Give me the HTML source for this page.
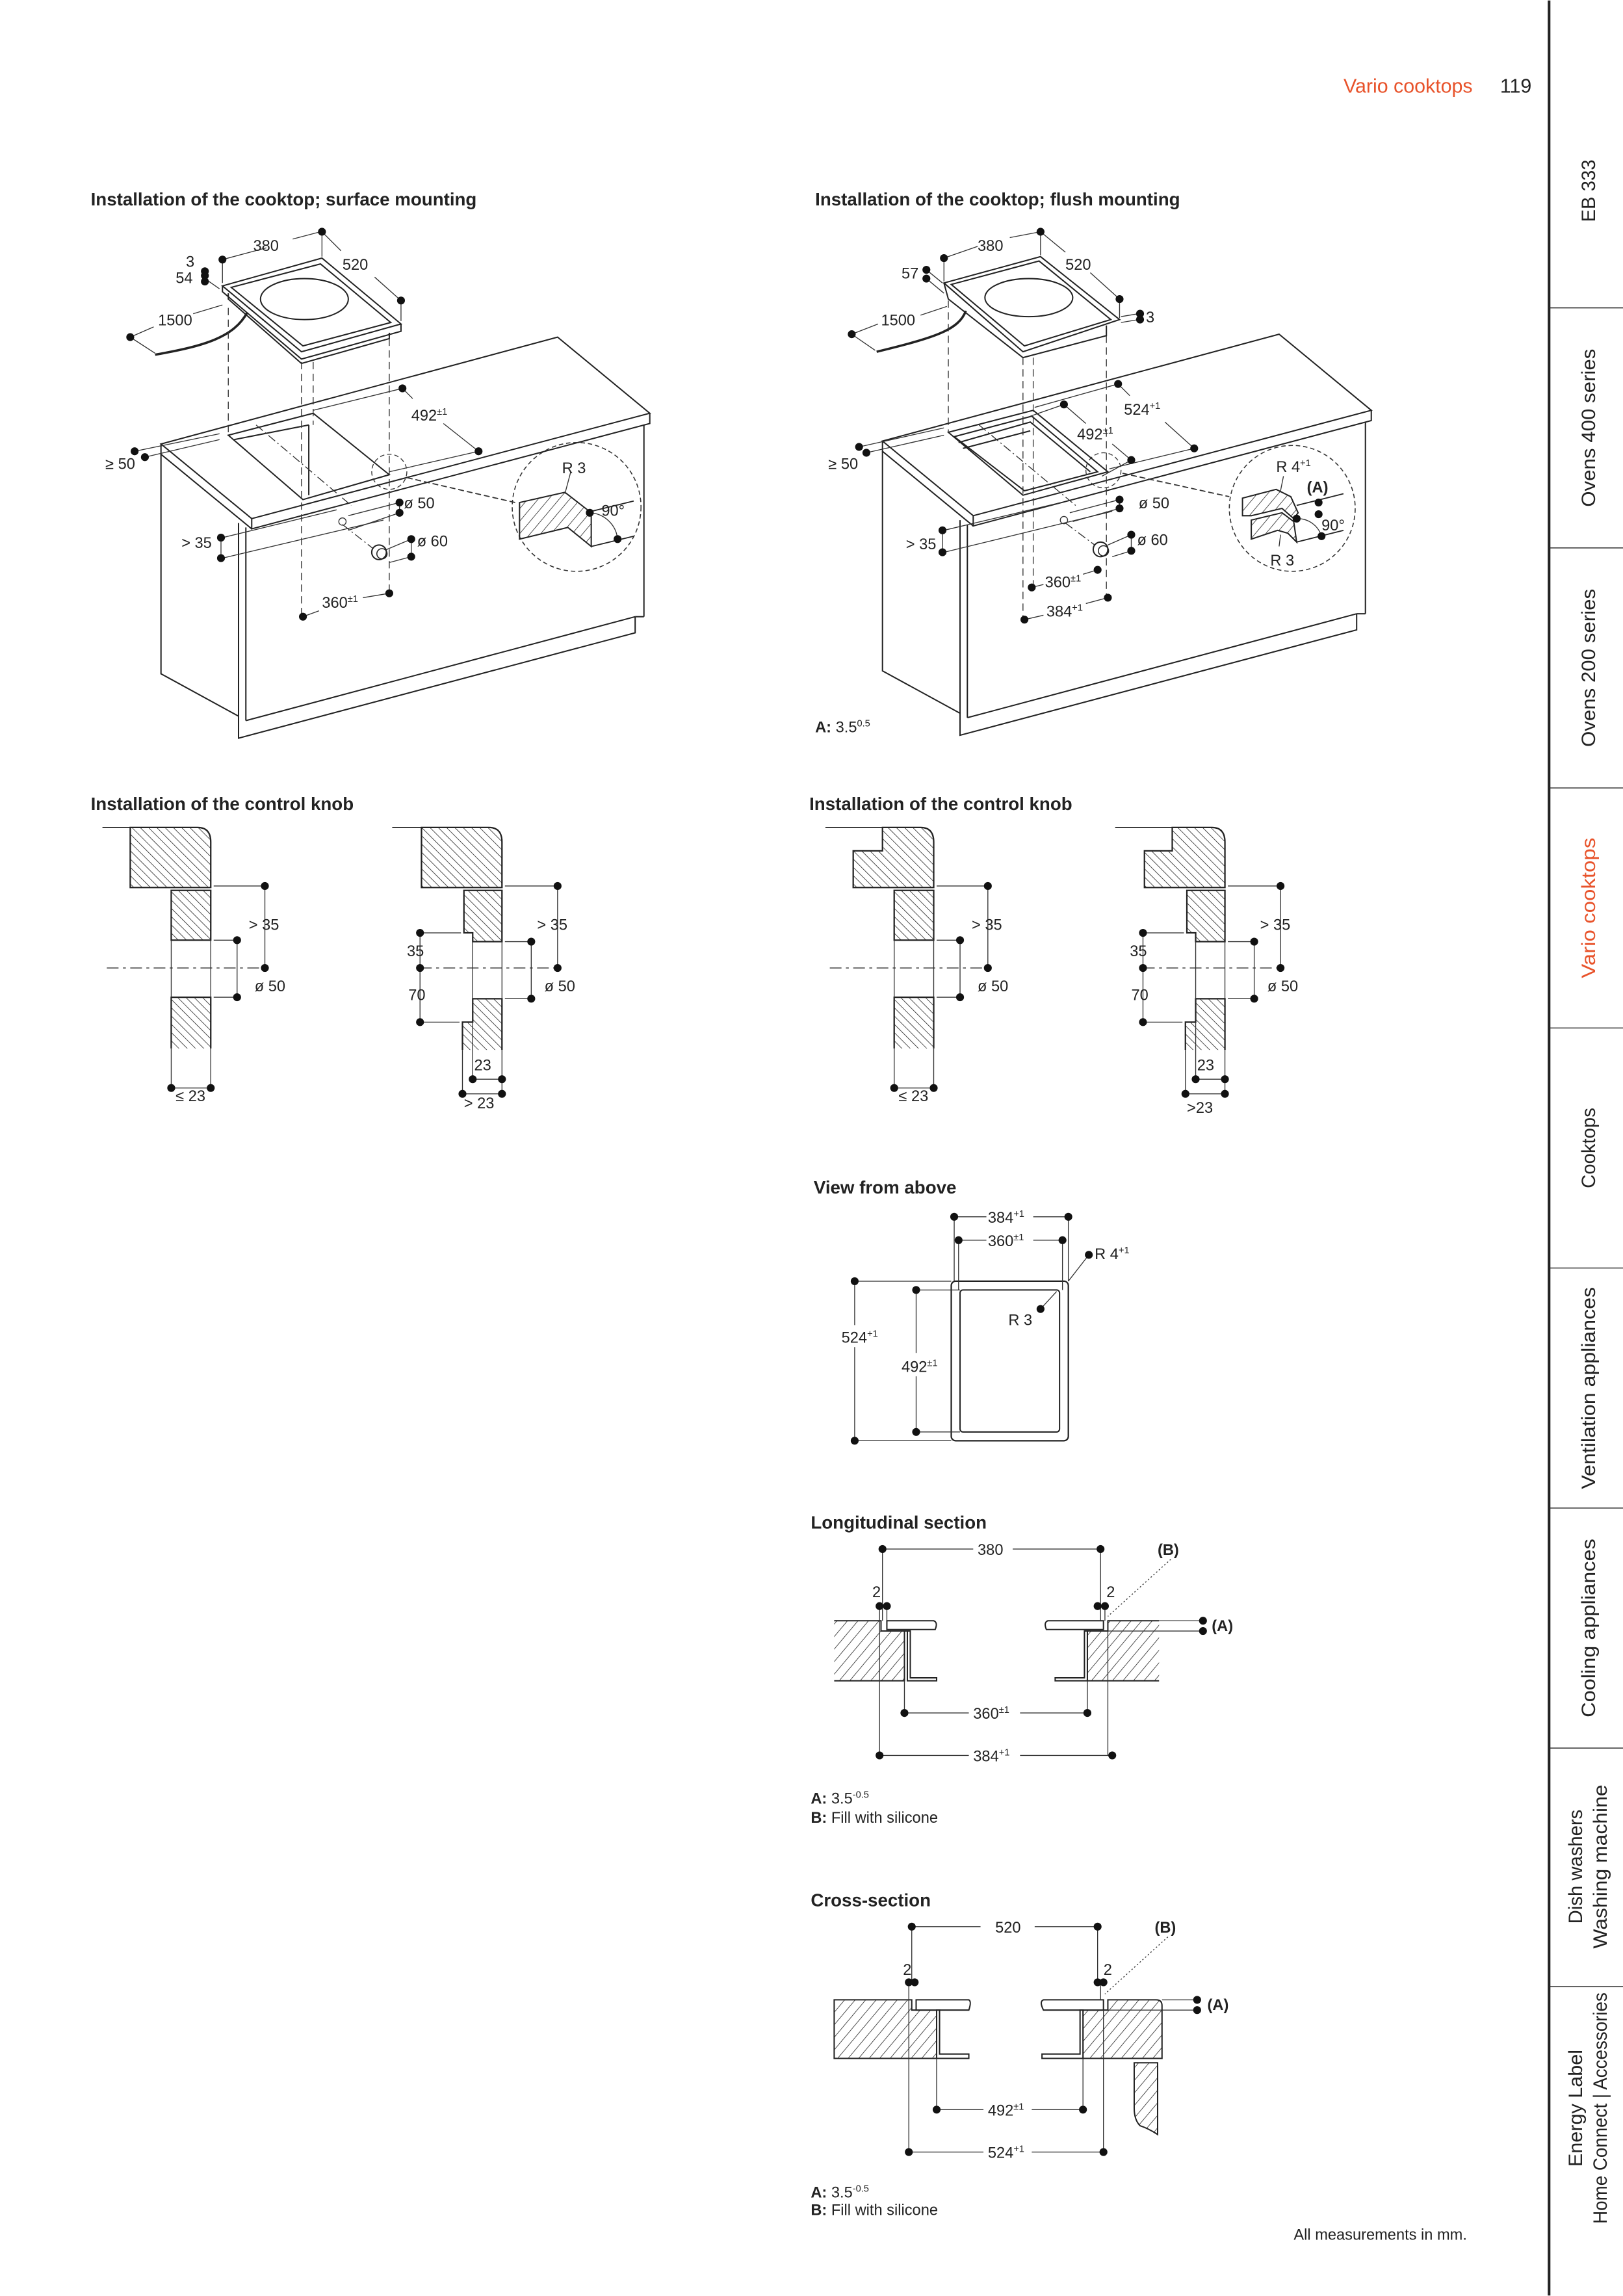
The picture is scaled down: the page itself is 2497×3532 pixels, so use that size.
<!DOCTYPE html>
<html><head><meta charset="utf-8"><style>
html,body{margin:0;padding:0;background:#fff}
svg{display:block}
text{font-family:"Liberation Sans",sans-serif;fill:#222}
.t{font-size:12.3px;font-weight:bold}
.l{font-size:10.5px}
.s{font-size:6.5px}
.sb{font-family:"Liberation Sans Narrow","Liberation Sans",sans-serif;font-size:13px}
</style></head><body>
<svg width="2497" height="3532" viewBox="0 0 1109 1568" xmlns="http://www.w3.org/2000/svg">
<defs>
<pattern id="hb" patternUnits="userSpaceOnUse" width="4" height="4" patternTransform="rotate(-45)"><line x1="0" y1="0" x2="0" y2="4" stroke="#222" stroke-width="0.7"/></pattern>
<pattern id="hf" patternUnits="userSpaceOnUse" width="5.5" height="5.5" patternTransform="rotate(40)"><line x1="0" y1="0" x2="0" y2="5.5" stroke="#222" stroke-width="0.7"/></pattern>
<g id="cab" fill="none" stroke="#222" stroke-width="0.9">
<polygon points="110,303 381,230 444,282 172,354" fill="#fff"/>
<polyline points="172,354 172,361 444,289 444,282"/>
<polyline points="110,303 110,310 172,361"/>
<polyline points="110,310 110,460 163,489 163,504 434,432 434,421"/>
<line x1="163" y1="357" x2="163" y2="489"/>
<line x1="168" y1="360" x2="168" y2="492"/>
<line x1="168" y1="492" x2="434" y2="421"/>
<line x1="440" y1="290" x2="440" y2="421"/>
<line x1="434" y1="421" x2="440" y2="421"/>
</g>
<g id="dt"><circle r="2.7" fill="#111"/></g>
</defs>

<!-- header -->
<text x="918" y="63" style="font-size:13.5px;fill:#e8532b">Vario cooktops</text>
<text x="1025" y="63" style="font-size:13.5px">119</text>

<!-- sidebar -->
<line x1="1058.5" y1="0" x2="1058.5" y2="1568" stroke="#222" stroke-width="1.8"/>
<g stroke="#333" stroke-width="0.7">
<line x1="1059" y1="210" x2="1109" y2="210"/><line x1="1059" y1="374" x2="1109" y2="374"/>
<line x1="1059" y1="538" x2="1109" y2="538"/><line x1="1059" y1="702" x2="1109" y2="702"/>
<line x1="1059" y1="866" x2="1109" y2="866"/><line x1="1059" y1="1030" x2="1109" y2="1030"/>
<line x1="1059" y1="1194" x2="1109" y2="1194"/><line x1="1059" y1="1357" x2="1109" y2="1357"/>
</g>
<g text-anchor="middle">
<text transform="translate(1090,130) rotate(-90)" class="sb">EB 333</text>
<text transform="translate(1090,292) rotate(-90)" class="sb" textLength="108" lengthAdjust="spacingAndGlyphs">Ovens 400 series</text>
<text transform="translate(1090,456) rotate(-90)" class="sb" textLength="108" lengthAdjust="spacingAndGlyphs">Ovens 200 series</text>
<text transform="translate(1090,620) rotate(-90)" class="sb" style="fill:#e8532b" textLength="96" lengthAdjust="spacingAndGlyphs">Vario cooktops</text>
<text transform="translate(1090,784) rotate(-90)" class="sb">Cooktops</text>
<text transform="translate(1090,948) rotate(-90)" class="sb" textLength="138" lengthAdjust="spacingAndGlyphs">Ventilation appliances</text>
<text transform="translate(1090,1112) rotate(-90)" class="sb" textLength="122" lengthAdjust="spacingAndGlyphs">Cooling appliances</text>
<text transform="translate(1081,1275) rotate(-90)" class="sb" textLength="78" lengthAdjust="spacingAndGlyphs">Dish washers</text>
<text transform="translate(1098,1275) rotate(-90)" class="sb" textLength="112" lengthAdjust="spacingAndGlyphs">Washing machine</text>
<text transform="translate(1081,1440) rotate(-90)" class="sb" textLength="80" lengthAdjust="spacingAndGlyphs">Energy Label</text>
<text transform="translate(1098,1440) rotate(-90)" class="sb" textLength="158" lengthAdjust="spacingAndGlyphs">Home Connect | Accessories</text>
</g>

<!-- titles -->
<text x="62" y="140" class="t">Installation of the cooktop; surface mounting</text>
<text x="557" y="140" class="t">Installation of the cooktop; flush mounting</text>
<text x="62" y="553" class="t">Installation of the control knob</text>
<text x="553" y="553" class="t">Installation of the control knob</text>
<text x="556" y="815" class="t">View from above</text>
<text x="554" y="1044" class="t">Longitudinal section</text>
<text x="554" y="1302" class="t">Cross-section</text>

<!-- ========== SURFACE MOUNTING ========== -->
<use href="#cab"/>
<g fill="none" stroke="#222" stroke-width="0.9">
<polygon points="156,297 214,282 266,324 207,341" fill="#fff"/>
<line x1="211" y1="290" x2="211" y2="338"/>
<line x1="160" y1="300" x2="211" y2="290"/>
<polygon points="152,195 220,176 274,221 206,240" fill="#fff"/>
<polyline points="152,195 152,199 206,245 274,226 274,221"/>
<polygon points="158,196 219,180 267,220 207,236"/>
<polyline points="156,200 156,204 206,248 266,231 266,227"/>
<ellipse cx="208" cy="204" rx="30" ry="14"/>
<path d="M169,213 C160,230 140,236 106,242" stroke-width="1.6"/>
</g>
<g stroke="#333" stroke-width="0.6" fill="none" stroke-dasharray="5,3">
<line x1="156" y1="210" x2="156" y2="297"/>
<line x1="206" y1="247" x2="206" y2="421"/>
<line x1="214" y1="247" x2="214" y2="290"/>
<line x1="266" y1="231" x2="266" y2="405"/>
<line x1="175" y1="290" x2="240" y2="345" stroke-dasharray="6,2,1,2"/>
<line x1="234" y1="358" x2="262" y2="380" stroke-dasharray="6,2,1,2"/>
</g>
<g stroke="#333" stroke-width="0.6">
<line x1="152" y1="193" x2="152" y2="178"/><line x1="152" y1="177" x2="182" y2="169"/><line x1="200" y1="163" x2="219" y2="158"/>
<line x1="220" y1="160" x2="220" y2="175"/><line x1="220" y1="158" x2="233" y2="171"/><line x1="256" y1="189" x2="274" y2="205"/><line x1="274" y1="205" x2="274" y2="219"/>
<line x1="140" y1="190" x2="150" y2="197"/>
<line x1="89" y1="230" x2="106" y2="241"/><line x1="89" y1="230" x2="105" y2="223"/><line x1="132" y1="214" x2="152" y2="208"/>
<line x1="214" y1="280" x2="275" y2="265"/><line x1="275" y1="265" x2="282" y2="272"/><line x1="303" y1="289" x2="327" y2="308"/><line x1="266" y1="322" x2="327" y2="308"/>
<line x1="92" y1="308" x2="150" y2="296"/><line x1="99" y1="312" x2="150" y2="300"/>
<line x1="152" y1="367" x2="230" y2="348"/><line x1="152" y1="381" x2="262" y2="355"/><line x1="151" y1="367" x2="151" y2="381"/>
<line x1="238" y1="352" x2="273" y2="343"/><line x1="238" y1="362" x2="273" y2="350"/><line x1="273" y1="343" x2="273" y2="350"/>
<line x1="262" y1="376" x2="281" y2="368"/><line x1="266" y1="384" x2="281" y2="380"/><line x1="281" y1="368" x2="281" y2="380"/>
<line x1="207" y1="421" x2="218" y2="417"/><line x1="248" y1="408" x2="266" y2="405"/>
</g>
<use href="#dt" x="152" y="177"/><use href="#dt" x="220" y="158"/><use href="#dt" x="274" y="205"/>
<use href="#dt" x="140" y="185"/><use href="#dt" x="140" y="188"/><use href="#dt" x="140" y="192"/>
<use href="#dt" x="89" y="230"/><use href="#dt" x="275" y="265"/><use href="#dt" x="327" y="308"/>
<use href="#dt" x="92" y="308"/><use href="#dt" x="99" y="312"/>
<use href="#dt" x="273" y="343"/><use href="#dt" x="273" y="350"/>
<use href="#dt" x="151" y="367"/><use href="#dt" x="151" y="381"/>
<use href="#dt" x="281" y="368"/><use href="#dt" x="281" y="380"/>
<use href="#dt" x="207" y="421"/><use href="#dt" x="266" y="405"/>
<circle cx="234" cy="356" r="2.5" fill="none" stroke="#333" stroke-width="0.6"/>
<circle cx="259" cy="377" r="5" fill="#fff" stroke="#222" stroke-width="0.9"/><circle cx="261" cy="378" r="3.5" fill="none" stroke="#222" stroke-width="0.7"/>
<circle cx="266" cy="322" r="12" fill="none" stroke="#333" stroke-width="0.6" stroke-dasharray="3,2"/>
<line x1="278" y1="326" x2="352" y2="343" stroke="#333" stroke-width="0.8" stroke-dasharray="4,2"/>
<circle cx="394" cy="346" r="44" fill="none" stroke="#333" stroke-width="0.7" stroke-dasharray="3,2"/>
<polygon points="355,343 386,336 404,350 404,373 388,360 355,368" fill="url(#hf)" stroke="#222" stroke-width="0.9"/>
<line x1="404" y1="349" x2="433" y2="342" stroke="#222" stroke-width="0.8"/><line x1="404" y1="373" x2="433" y2="366" stroke="#222" stroke-width="0.8"/>
<path d="M403,350 A20,20 0 0 1 422,368" fill="none" stroke="#333" stroke-width="0.6"/>
<use href="#dt" x="403" y="350"/><use href="#dt" x="422" y="368"/>
<line x1="386" y1="337" x2="390" y2="322" stroke="#333" stroke-width="0.6"/>
<g class="l">
<text x="127" y="182">3</text><text x="120" y="193">54</text><text x="173" y="171">380</text><text x="234" y="184">520</text>
<text x="108" y="222">1500</text><text x="281" y="287">492<tspan class="s" dy="-4">±1</tspan></text>
<text x="72" y="320">≥ 50</text><text x="384" y="323">R 3</text><text x="411" y="352">90°</text>
<text x="276" y="347">ø 50</text><text x="124" y="374">&gt; 35</text><text x="285" y="373">ø 60</text>
<text x="220" y="415">360<tspan class="s" dy="-4">±1</tspan></text>
</g>

<!-- ========== FLUSH MOUNTING ========== -->
<use href="#cab" transform="translate(493,-2)"/>
<g fill="none" stroke="#222" stroke-width="0.9">
<polygon points="648,295 706,280 757,322 699,338" fill="#fff"/>
<polygon points="652,298 705,284 750,322 700,335"/>
<polyline points="655,302 704,288 745,322"/>
<line x1="658" y1="306" x2="704" y2="294"/>
<polygon points="645,193 711,175 765,218 699,240" fill="#fff"/>
<polyline points="645,193 648,204 699,244 756,229 756,222"/>
<polygon points="650,194 710,178 759,218 700,236"/>
<ellipse cx="703" cy="203" rx="30" ry="13"/>
<path d="M660,212 C655,225 640,230 599,240" stroke-width="1.6"/>
</g>
<g stroke="#333" stroke-width="0.6" fill="none" stroke-dasharray="5,3">
<line x1="648" y1="205" x2="648" y2="295"/>
<line x1="699" y1="244" x2="699" y2="423"/>
<line x1="706" y1="244" x2="706" y2="400"/>
<line x1="756" y1="229" x2="756" y2="408"/>
<line x1="669" y1="290" x2="735" y2="345" stroke-dasharray="6,2,1,2"/>
<line x1="728" y1="357" x2="752" y2="375" stroke-dasharray="6,2,1,2"/>
</g>
<g stroke="#333" stroke-width="0.6">
<line x1="645" y1="192" x2="645" y2="177"/><line x1="645" y1="176" x2="668" y2="168"/><line x1="690" y1="162" x2="711" y2="158"/>
<line x1="711" y1="158" x2="711" y2="174"/><line x1="711" y1="158" x2="728" y2="172"/><line x1="745" y1="186" x2="765" y2="204"/><line x1="765" y1="204" x2="765" y2="217"/>
<line x1="633" y1="184" x2="644" y2="193"/><line x1="633" y1="190" x2="645" y2="200"/>
<line x1="766" y1="216" x2="778" y2="214"/><line x1="766" y1="220" x2="778" y2="218"/>
<line x1="582" y1="228" x2="598" y2="239"/><line x1="582" y1="228" x2="600" y2="221"/><line x1="629" y1="215" x2="647" y2="209"/>
<line x1="707" y1="278" x2="764" y2="262"/><line x1="764" y1="262" x2="772" y2="270"/><line x1="796" y1="288" x2="816" y2="306"/><line x1="758" y1="320" x2="816" y2="306"/>
<line x1="704" y1="284" x2="727" y2="276"/><line x1="727" y1="276" x2="742" y2="289"/><line x1="760" y1="303" x2="773" y2="314"/><line x1="753" y1="325" x2="773" y2="314"/>
<line x1="587" y1="305" x2="645" y2="292"/><line x1="592" y1="309" x2="645" y2="297"/>
<line x1="645" y1="362" x2="725" y2="343"/><line x1="645" y1="377" x2="760" y2="349"/><line x1="644" y1="362" x2="644" y2="377"/>
<line x1="731" y1="350" x2="765" y2="341"/><line x1="733" y1="356" x2="765" y2="347"/><line x1="765" y1="341" x2="765" y2="347"/>
<line x1="757" y1="372" x2="773" y2="365"/><line x1="760" y1="380" x2="773" y2="376"/><line x1="773" y1="365" x2="773" y2="376"/>
<line x1="705" y1="401" x2="713" y2="399"/><line x1="740" y1="392" x2="750" y2="389"/>
<line x1="700" y1="423" x2="713" y2="420"/><line x1="742" y1="412" x2="757" y2="408"/>
</g>
<use href="#dt" x="645" y="176"/><use href="#dt" x="711" y="158"/><use href="#dt" x="765" y="204"/>
<use href="#dt" x="633" y="184"/><use href="#dt" x="633" y="190"/>
<use href="#dt" x="779" y="214"/><use href="#dt" x="779" y="218"/>
<use href="#dt" x="582" y="228"/><use href="#dt" x="764" y="262"/><use href="#dt" x="816" y="306"/>
<use href="#dt" x="727" y="276"/><use href="#dt" x="773" y="314"/>
<use href="#dt" x="587" y="305"/><use href="#dt" x="592" y="309"/>
<use href="#dt" x="765" y="341"/><use href="#dt" x="765" y="347"/>
<use href="#dt" x="644" y="362"/><use href="#dt" x="644" y="377"/>
<use href="#dt" x="773" y="365"/><use href="#dt" x="773" y="376"/>
<use href="#dt" x="705" y="401"/><use href="#dt" x="750" y="389"/>
<use href="#dt" x="700" y="423"/><use href="#dt" x="757" y="408"/>
<circle cx="727" cy="355" r="2.5" fill="none" stroke="#333" stroke-width="0.6"/>
<circle cx="752" cy="375" r="5" fill="#fff" stroke="#222" stroke-width="0.9"/><circle cx="754" cy="376" r="3.5" fill="none" stroke="#222" stroke-width="0.7"/>
<circle cx="754" cy="321" r="12" fill="none" stroke="#333" stroke-width="0.6" stroke-dasharray="3,2"/>
<line x1="767" y1="323" x2="840" y2="339" stroke="#333" stroke-width="0.8" stroke-dasharray="4,2"/>
<circle cx="883" cy="347" r="43" fill="none" stroke="#333" stroke-width="0.7" stroke-dasharray="3,2"/>
<polygon points="849,340 872,334 882,339 887,350 884,354 876,347 855,352 849,352" fill="url(#hf)" stroke="#222" stroke-width="0.9"/>
<polygon points="855,355 876,350 884,356 886,370 880,364 873,362 855,368" fill="url(#hf)" stroke="#222" stroke-width="0.9"/>
<line x1="886" y1="345" x2="918" y2="337" stroke="#222" stroke-width="0.8"/><line x1="886" y1="370" x2="918" y2="362" stroke="#222" stroke-width="0.8"/>
<path d="M886,354 A17,17 0 0 1 903,366" fill="none" stroke="#333" stroke-width="0.6"/>
<use href="#dt" x="901" y="343"/><use href="#dt" x="901" y="351"/><use href="#dt" x="886" y="354"/><use href="#dt" x="903" y="366"/>
<line x1="875" y1="335" x2="877" y2="325" stroke="#333" stroke-width="0.6"/><line x1="875" y1="365" x2="874" y2="373" stroke="#333" stroke-width="0.6"/>
<g class="l">
<text x="616" y="190">57</text><text x="668" y="171">380</text><text x="728" y="184">520</text><text x="783" y="220">3</text>
<text x="602" y="222">1500</text><text x="768" y="283">524<tspan class="s" dy="-4">+1</tspan></text>
<text x="736" y="300">492<tspan class="s" dy="-4">±1</tspan></text>
<text x="566" y="320">≥ 50</text><text x="872" y="322">R 4<tspan class="s" dy="-4">+1</tspan></text>
<text x="893" y="336" style="font-weight:bold">(A)</text><text x="903" y="362">90°</text><text x="868" y="386">R 3</text>
<text x="778" y="347">ø 50</text><text x="619" y="375">&gt; 35</text><text x="777" y="372">ø 60</text>
<text x="714" y="401">360<tspan class="s" dy="-4">±1</tspan></text><text x="715" y="421">384<tspan class="s" dy="-4">+1</tspan></text>
<text x="557" y="500"><tspan style="font-weight:bold">A:</tspan> 3.5<tspan class="s" dy="-4">0.5</tspan></text>
</g>

<!-- ========== CONTROL KNOB (left pair) ========== -->
<g>
<line x1="70" y1="565" x2="89" y2="565" stroke="#222" stroke-width="0.8"/>
<path d="M89,565 H135 Q144,565 144,575 V606 H89 Z" fill="url(#hb)" stroke="#222" stroke-width="1"/>
<rect x="117" y="608" width="27" height="34" fill="url(#hb)" stroke="#222" stroke-width="1"/>
<path d="M117,716 V681 H144 V716" fill="url(#hb)" stroke="#222" stroke-width="1"/>
<g stroke="#333" stroke-width="0.6">
<line x1="117" y1="642" x2="117" y2="681"/><line x1="144" y1="642" x2="144" y2="681"/>
<line x1="117" y1="716" x2="117" y2="743"/><line x1="144" y1="716" x2="144" y2="743"/>
<line x1="146" y1="605" x2="181" y2="605"/><line x1="181" y1="605" x2="181" y2="661"/>
<line x1="146" y1="642" x2="162" y2="642"/><line x1="162" y1="642" x2="162" y2="681"/><line x1="146" y1="681" x2="162" y2="681"/>
<line x1="73" y1="661" x2="181" y2="661" stroke-dasharray="8,3,2,3"/>
<line x1="117" y1="743" x2="144" y2="743"/>
</g>
<use href="#dt" x="181" y="605"/><use href="#dt" x="181" y="661"/><use href="#dt" x="162" y="642"/><use href="#dt" x="162" y="681"/>
<use href="#dt" x="117" y="743"/><use href="#dt" x="144" y="743"/>
</g>
<g class="l"><text x="170" y="635">&gt; 35</text><text x="174" y="677">ø 50</text><text x="120" y="752">≤ 23</text></g>

<g>
<line x1="268" y1="565" x2="288" y2="565" stroke="#222" stroke-width="0.8"/>
<path d="M288,565 H334 Q343,565 343,575 V606 H288 Z" fill="url(#hb)" stroke="#222" stroke-width="1"/>
<path d="M317,608 H343 V643 H323 V637 H317 Z" fill="url(#hb)" stroke="#222" stroke-width="1"/>
<path d="M316,717 V698 H323 V682 H343 V717" fill="url(#hb)" stroke="#222" stroke-width="1"/>
<g stroke="#333" stroke-width="0.6">
<line x1="323" y1="643" x2="323" y2="682"/><line x1="343" y1="643" x2="343" y2="682"/>
<line x1="323" y1="698" x2="323" y2="737"/><line x1="316" y1="717" x2="316" y2="747"/><line x1="343" y1="717" x2="343" y2="747"/>
<line x1="345" y1="605" x2="381" y2="605"/><line x1="381" y1="605" x2="381" y2="661"/>
<line x1="345" y1="643" x2="363" y2="643"/><line x1="363" y1="643" x2="363" y2="682"/><line x1="345" y1="682" x2="363" y2="682"/>
<line x1="287" y1="661" x2="381" y2="661" stroke-dasharray="8,3,2,3"/>
<line x1="287" y1="637" x2="315" y2="637"/><line x1="287" y1="698" x2="314" y2="698"/><line x1="287" y1="637" x2="287" y2="698"/>
<line x1="323" y1="737" x2="343" y2="737"/><line x1="316" y1="747" x2="343" y2="747"/>
</g>
<use href="#dt" x="381" y="605"/><use href="#dt" x="381" y="661"/><use href="#dt" x="363" y="643"/><use href="#dt" x="363" y="682"/>
<use href="#dt" x="287" y="637"/><use href="#dt" x="287" y="661"/><use href="#dt" x="287" y="698"/>
<use href="#dt" x="323" y="737"/><use href="#dt" x="343" y="737"/><use href="#dt" x="316" y="747"/><use href="#dt" x="343" y="747"/>
</g>
<g class="l"><text x="367" y="635">&gt; 35</text><text x="372" y="677">ø 50</text><text x="278" y="653">35</text><text x="279" y="683">70</text><text x="324" y="731">23</text><text x="317" y="757">&gt; 23</text></g>

<!-- ========== CONTROL KNOB (right pair, flush) ========== -->
<g transform="translate(494,0)">
<line x1="70" y1="565" x2="109" y2="565" stroke="#222" stroke-width="0.8"/>
<path d="M89,581 H109 V565 H135 Q144,565 144,575 V606 H89 Z" fill="url(#hb)" stroke="#222" stroke-width="1"/>
<rect x="117" y="608" width="27" height="34" fill="url(#hb)" stroke="#222" stroke-width="1"/>
<path d="M117,716 V681 H144 V716" fill="url(#hb)" stroke="#222" stroke-width="1"/>
<g stroke="#333" stroke-width="0.6">
<line x1="117" y1="642" x2="117" y2="681"/><line x1="144" y1="642" x2="144" y2="681"/>
<line x1="117" y1="716" x2="117" y2="743"/><line x1="144" y1="716" x2="144" y2="743"/>
<line x1="146" y1="605" x2="181" y2="605"/><line x1="181" y1="605" x2="181" y2="661"/>
<line x1="146" y1="642" x2="162" y2="642"/><line x1="162" y1="642" x2="162" y2="681"/><line x1="146" y1="681" x2="162" y2="681"/>
<line x1="73" y1="661" x2="181" y2="661" stroke-dasharray="8,3,2,3"/>
<line x1="117" y1="743" x2="144" y2="743"/>
</g>
<use href="#dt" x="181" y="605"/><use href="#dt" x="181" y="661"/><use href="#dt" x="162" y="642"/><use href="#dt" x="162" y="681"/>
<use href="#dt" x="117" y="743"/><use href="#dt" x="144" y="743"/>
<g class="l"><text x="170" y="635">&gt; 35</text><text x="174" y="677">ø 50</text><text x="120" y="752">≤ 23</text></g>
</g>
<g transform="translate(494,0)">
<line x1="268" y1="565" x2="307" y2="565" stroke="#222" stroke-width="0.8"/>
<path d="M288,581 H307 V565 H334 Q343,565 343,575 V606 H288 Z" fill="url(#hb)" stroke="#222" stroke-width="1"/>
<path d="M317,608 H343 V643 H323 V637 H317 Z" fill="url(#hb)" stroke="#222" stroke-width="1"/>
<path d="M316,717 V698 H323 V682 H343 V717" fill="url(#hb)" stroke="#222" stroke-width="1"/>
<g stroke="#333" stroke-width="0.6">
<line x1="323" y1="643" x2="323" y2="682"/><line x1="343" y1="643" x2="343" y2="682"/>
<line x1="323" y1="698" x2="323" y2="737"/><line x1="316" y1="717" x2="316" y2="747"/><line x1="343" y1="717" x2="343" y2="747"/>
<line x1="345" y1="605" x2="381" y2="605"/><line x1="381" y1="605" x2="381" y2="661"/>
<line x1="345" y1="643" x2="363" y2="643"/><line x1="363" y1="643" x2="363" y2="682"/><line x1="345" y1="682" x2="363" y2="682"/>
<line x1="287" y1="661" x2="381" y2="661" stroke-dasharray="8,3,2,3"/>
<line x1="287" y1="637" x2="315" y2="637"/><line x1="287" y1="698" x2="314" y2="698"/><line x1="287" y1="637" x2="287" y2="698"/>
<line x1="323" y1="737" x2="343" y2="737"/><line x1="316" y1="747" x2="343" y2="747"/>
</g>
<use href="#dt" x="381" y="605"/><use href="#dt" x="381" y="661"/><use href="#dt" x="363" y="643"/><use href="#dt" x="363" y="682"/>
<use href="#dt" x="287" y="637"/><use href="#dt" x="287" y="661"/><use href="#dt" x="287" y="698"/>
<use href="#dt" x="323" y="737"/><use href="#dt" x="343" y="737"/><use href="#dt" x="316" y="747"/><use href="#dt" x="343" y="747"/>
<g class="l"><text x="367" y="635">&gt; 35</text><text x="372" y="677">ø 50</text><text x="278" y="653">35</text><text x="279" y="683">70</text><text x="324" y="731">23</text><text x="317" y="760">&gt;23</text></g>
</g>

<!-- ========== VIEW FROM ABOVE ========== -->
<g fill="none" stroke="#222">
<rect x="650" y="875" width="80" height="109" rx="3" stroke-width="1"/>
<rect x="656" y="881" width="68" height="97" rx="2" stroke-width="0.9"/>
</g>
<g stroke="#333" stroke-width="0.6">
<line x1="652" y1="831" x2="674" y2="831"/><line x1="706" y1="831" x2="730" y2="831"/>
<line x1="655" y1="847" x2="674" y2="847"/><line x1="706" y1="847" x2="726" y2="847"/>
<line x1="652" y1="831" x2="652" y2="875"/><line x1="730" y1="831" x2="730" y2="875"/>
<line x1="655" y1="847" x2="655" y2="881"/><line x1="726" y1="847" x2="726" y2="881"/>
<line x1="584" y1="875" x2="650" y2="875"/><line x1="584" y1="984" x2="650" y2="984"/><line x1="584" y1="875" x2="584" y2="905"/><line x1="584" y1="920" x2="584" y2="984"/>
<line x1="626" y1="881" x2="656" y2="881"/><line x1="626" y1="978" x2="656" y2="978"/><line x1="626" y1="881" x2="626" y2="924"/><line x1="626" y1="940" x2="626" y2="978"/>
<line x1="730" y1="875" x2="744" y2="857"/><line x1="711" y1="894" x2="722" y2="882"/>
</g>
<use href="#dt" x="652" y="831"/><use href="#dt" x="730" y="831"/><use href="#dt" x="655" y="847"/><use href="#dt" x="726" y="847"/>
<use href="#dt" x="584" y="875"/><use href="#dt" x="584" y="984"/><use href="#dt" x="626" y="881"/><use href="#dt" x="626" y="978"/>
<use href="#dt" x="744" y="857"/><use href="#dt" x="711" y="894"/>
<g class="l">
<text x="675" y="835">384<tspan class="s" dy="-4">+1</tspan></text><text x="675" y="851">360<tspan class="s" dy="-4">±1</tspan></text>
<text x="748" y="860">R 4<tspan class="s" dy="-4">+1</tspan></text><text x="689" y="905">R 3</text>
<text x="575" y="917">524<tspan class="s" dy="-4">+1</tspan></text><text x="616" y="937">492<tspan class="s" dy="-4">±1</tspan></text>
</g>

<!-- ========== LONGITUDINAL SECTION ========== -->
<g stroke="#222" stroke-width="0.9">
<path d="M570,1107 H602 V1114 H618 V1148 H570" fill="url(#hf)"/>
<path d="M792,1107 H757 V1114 H743 V1148 H792" fill="url(#hf)"/>
<path d="M606,1107 H638 Q641,1108 639,1113 H606 Z" fill="#fff"/>
<path d="M754,1107 H716 Q713,1108 715,1113 H754 Z" fill="#fff"/>
<path d="M622,1114 V1146 H640 V1148 H620 V1114 Z" fill="#fff"/>
<path d="M741,1114 V1146 H721 V1148 H743 V1114 Z" fill="#fff"/>
<line x1="602" y1="1114" x2="622" y2="1114"/><line x1="741" y1="1114" x2="757" y2="1114"/>
</g>
<g stroke="#333" stroke-width="0.6">
<line x1="603" y1="1058" x2="665" y2="1058"/><line x1="692" y1="1058" x2="752" y2="1058"/>
<line x1="603" y1="1058" x2="603" y2="1107"/><line x1="606" y1="1097" x2="606" y2="1107"/><line x1="601" y1="1097" x2="601" y2="1199"/>
<line x1="752" y1="1058" x2="752" y2="1107"/><line x1="755" y1="1097" x2="755" y2="1107"/><line x1="757" y1="1114" x2="757" y2="1199"/>
<line x1="618" y1="1148" x2="618" y2="1170"/><line x1="743" y1="1148" x2="743" y2="1170"/>
<line x1="618" y1="1170" x2="662" y2="1170"/><line x1="697" y1="1170" x2="743" y2="1170"/>
<line x1="601" y1="1199" x2="662" y2="1199"/><line x1="697" y1="1199" x2="760" y2="1199"/>
<line x1="792" y1="1107" x2="822" y2="1107"/><line x1="757" y1="1114" x2="822" y2="1114"/>
<line x1="800" y1="1065" x2="757" y2="1104" stroke-dasharray="1,1.5"/>
</g>
<use href="#dt" x="603" y="1058"/><use href="#dt" x="752" y="1058"/>
<use href="#dt" x="601" y="1097"/><use href="#dt" x="606" y="1097"/><use href="#dt" x="750" y="1097"/><use href="#dt" x="755" y="1097"/>
<use href="#dt" x="618" y="1170"/><use href="#dt" x="743" y="1170"/><use href="#dt" x="601" y="1199"/><use href="#dt" x="760" y="1199"/>
<use href="#dt" x="822" y="1107"/><use href="#dt" x="822" y="1114"/>
<g class="l">
<text x="668" y="1062">380</text><text x="596" y="1091">2</text><text x="756" y="1091">2</text>
<text x="791" y="1062" style="font-weight:bold">(B)</text><text x="828" y="1114" style="font-weight:bold">(A)</text>
<text x="665" y="1174">360<tspan class="s" dy="-4">±1</tspan></text><text x="665" y="1203">384<tspan class="s" dy="-4">+1</tspan></text>
<text x="554" y="1232"><tspan style="font-weight:bold">A:</tspan> 3.5<tspan class="s" dy="-4">-0.5</tspan></text>
<text x="554" y="1245"><tspan style="font-weight:bold">B:</tspan> Fill with silicone</text>
</g>

<!-- ========== CROSS-SECTION ========== -->
<g stroke="#222" stroke-width="0.9">
<path d="M570,1366 H623 V1373 H640 V1406 H570 Z" fill="url(#hf)"/>
<path d="M757,1366 H790 Q794,1366 794,1370 V1406 H740 V1373 H757 Z" fill="url(#hf)"/>
<path d="M775,1409 H791 V1458 Q785,1454 779,1452 Q775,1448 775,1440 Z" fill="url(#hf)"/>
<path d="M626,1366 H662 Q664,1367 662,1373 H626 Z" fill="#fff"/>
<path d="M754,1366 H713 Q710,1367 713,1373 H754 Z" fill="#fff"/>
<path d="M642,1373 V1403 H662 V1406 H640 V1373 Z" fill="#fff"/>
<path d="M738,1373 V1403 H712 V1406 H740 V1373 Z" fill="#fff"/>
</g>
<g stroke="#333" stroke-width="0.6">
<line x1="623" y1="1316" x2="670" y2="1316"/><line x1="707" y1="1316" x2="750" y2="1316"/>
<line x1="623" y1="1316" x2="623" y2="1354"/><line x1="621" y1="1354" x2="621" y2="1470"/>
<line x1="750" y1="1316" x2="750" y2="1354"/><line x1="752" y1="1354" x2="752" y2="1366"/><line x1="754" y1="1373" x2="754" y2="1470"/>
<line x1="640" y1="1406" x2="640" y2="1441"/><line x1="740" y1="1406" x2="740" y2="1441"/>
<line x1="640" y1="1441" x2="672" y2="1441"/><line x1="705" y1="1441" x2="740" y2="1441"/>
<line x1="621" y1="1470" x2="672" y2="1470"/><line x1="705" y1="1470" x2="754" y2="1470"/>
<line x1="794" y1="1366" x2="818" y2="1366"/><line x1="757" y1="1373" x2="818" y2="1373"/>
<line x1="798" y1="1323" x2="755" y2="1362" stroke-dasharray="1,1.5"/>
</g>
<use href="#dt" x="623" y="1316"/><use href="#dt" x="750" y="1316"/>
<use href="#dt" x="621" y="1354"/><use href="#dt" x="625" y="1354"/><use href="#dt" x="750" y="1354"/><use href="#dt" x="754" y="1354"/>
<use href="#dt" x="640" y="1441"/><use href="#dt" x="740" y="1441"/><use href="#dt" x="621" y="1470"/><use href="#dt" x="754" y="1470"/>
<use href="#dt" x="818" y="1366"/><use href="#dt" x="818" y="1373"/>
<g class="l">
<text x="680" y="1320">520</text><text x="617" y="1349">2</text><text x="754" y="1349">2</text>
<text x="789" y="1320" style="font-weight:bold">(B)</text><text x="825" y="1373" style="font-weight:bold">(A)</text>
<text x="675" y="1445">492<tspan class="s" dy="-4">±1</tspan></text><text x="675" y="1474">524<tspan class="s" dy="-4">+1</tspan></text>
<text x="554" y="1501"><tspan style="font-weight:bold">A:</tspan> 3.5<tspan class="s" dy="-4">-0.5</tspan></text>
<text x="554" y="1513"><tspan style="font-weight:bold">B:</tspan> Fill with silicone</text>
<text x="884" y="1530">All measurements in mm.</text>
</g>
</svg>
</body></html>
